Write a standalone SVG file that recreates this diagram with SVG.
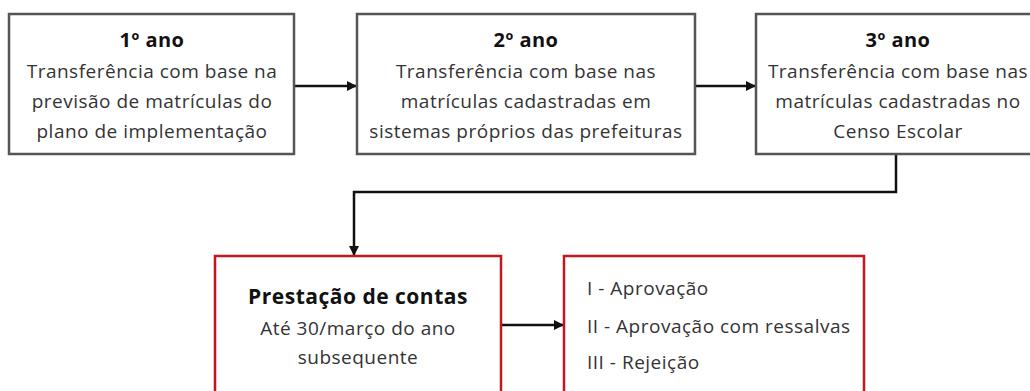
<svg xmlns="http://www.w3.org/2000/svg" width="1030" height="391" viewBox="0 0 1030 391">
<defs>
<style>
.box{fill:#fff;stroke:#555;stroke-width:2.5}
.rbox{fill:#fff;stroke:#c3161f;stroke-width:2.5}
.t{font-family:"Open Sans","Liberation Sans",sans-serif;font-size:19px;letter-spacing:0.5px;fill:#333;text-anchor:middle}
.h{font-family:"Open Sans","Liberation Sans",sans-serif;font-size:20px;letter-spacing:0.5px;font-weight:bold;fill:#111;text-anchor:middle}
.l{font-family:"Open Sans","Liberation Sans",sans-serif;font-size:19px;letter-spacing:0.5px;fill:#333}
.c{fill:none;stroke:#111;stroke-width:2.5}
</style>
<marker id="ah" viewBox="0 0 10 10" refX="9" refY="5" markerWidth="4" markerHeight="4" orient="auto" markerUnits="strokeWidth">
<path d="M0,0 L10,5 L0,10 z" fill="#111"/>
</marker>
</defs>
<rect width="1030" height="391" fill="#fff"/>
<g id="connectors">
<line class="c" x1="294" y1="86" x2="356" y2="86" marker-end="url(#ah)"/>
<line class="c" x1="695" y1="86" x2="755" y2="86" marker-end="url(#ah)"/>
<polyline class="c" points="896,154 896,192 354,192 354,255" marker-end="url(#ah)"/>
<line class="c" x1="501" y1="325" x2="563" y2="325" marker-end="url(#ah)"/>
</g>
<g id="node1">
<rect class="box" x="9" y="14" width="285" height="140"/>
<text class="h" x="152" y="47">1º ano</text>
<text class="t" x="152" y="78">Transferência com base na</text>
<text class="t" x="152" y="108">previsão de matrículas do</text>
<text class="t" x="152" y="138">plano de implementação</text>
</g>
<g id="node2">
<rect class="box" x="357" y="14" width="338" height="140"/>
<text class="h" x="526" y="47">2º ano</text>
<text class="t" x="526" y="78">Transferência com base nas</text>
<text class="t" x="526" y="108">matrículas cadastradas em</text>
<text class="t" x="526" y="138">sistemas próprios das prefeituras</text>
</g>
<g id="node3">
<rect class="box" x="756" y="14" width="284" height="140"/>
<text class="h" x="898" y="47">3º ano</text>
<text class="t" x="898" y="78">Transferência com base nas</text>
<text class="t" x="898" y="108">matrículas cadastradas no</text>
<text class="t" x="898" y="138">Censo Escolar</text>
</g>
<g id="node4">
<rect class="rbox" x="215" y="256" width="286" height="150"/>
<text class="h" x="358" y="304" style="font-size:21px">Prestação de contas</text>
<text class="t" x="358" y="335">Até 30/março do ano</text>
<text class="t" x="358" y="364">subsequente</text>
</g>
<g id="node5">
<rect class="rbox" x="564" y="256" width="300" height="150"/>
<text class="l" x="587" y="295">I - Aprovação</text>
<text class="l" x="587" y="333">II - Aprovação com ressalvas</text>
<text class="l" x="587" y="369">III - Rejeição</text>
</g>
</svg>
